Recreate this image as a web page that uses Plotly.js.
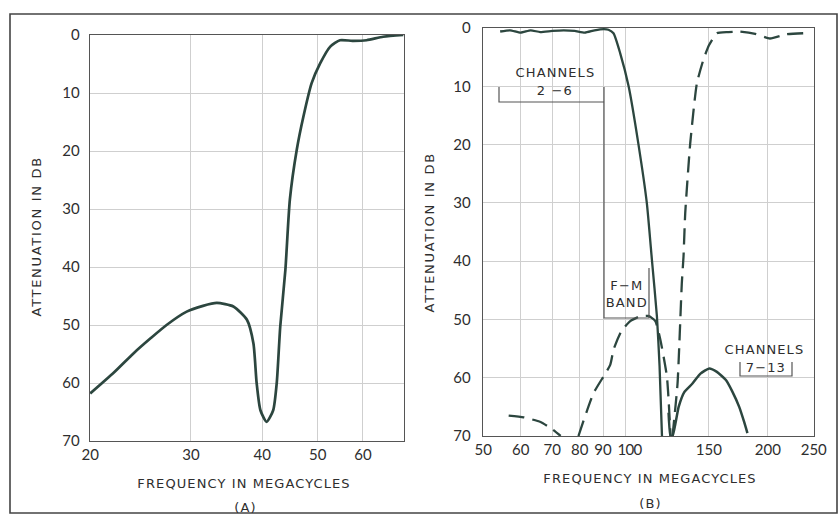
<!DOCTYPE html>
<html>
<head>
<meta charset="utf-8">
<script src="https://cdn.plot.ly/plotly-3.0.1.min.js"></script>
<style>html,body{margin:0;padding:0;background:#fff;}#chart{width:840px;height:517px;}</style>
</head>
<body>
<div id="chart"></div>
<script>
// ---- Panel A: attenuation vs frequency ----
const freqA = [20, 22, 23.8, 25.5, 27.2, 29.5, 31.5, 33.3, 35.6, 37.6, 38.6, 39.1, 39.7, 40.7, 41.8, 42.4, 43.0, 43.9, 44.7, 45.96, 47.2, 48.8, 50.5, 52.6, 54.7, 57.5, 60.9, 65.1, 70.6];
const attA  = [61.8, 58.2, 54.9, 52.3, 50, 47.7, 46.7, 46.2, 46.8, 49.1, 53.2, 60, 64.7, 66.7, 64.7, 60, 50.3, 40.5, 28.4, 19.8, 14.1, 8.3, 4.9, 2.0, 0.9, 1.0, 0.9, 0.3, 0];

// ---- Panel B: solid (channels 2-6 low-pass) ----
const freqB1 = [54.3, 57, 60, 63, 66, 70, 74, 78, 82, 86, 90, 92, 94.3, 97.4, 101.5, 106.5, 110.9, 113.7, 116.5, 118, 119.4];
const attB1  = [0.6, 0.4, 0.8, 0.4, 0.7, 0.5, 0.4, 0.5, 0.8, 0.4, 0.2, 0.3, 0.9, 4.3, 10, 20, 30, 39.8, 49.5, 58, 70];
// solid second lobe
const freqB2 = [123.3, 124.5, 125.7, 129.5, 133, 138.5, 144, 150.3, 156, 163, 168, 173.9, 178, 181];
const attB2  = [66, 70, 70, 65, 62.5, 61, 59.3, 58.4, 59, 60.4, 62.3, 65, 67.5, 69.5];
// ---- Panel B: dashed (channels 7-13 high-pass) ----
const freqB3 = [56.6, 60.9, 66.1, 69.9, 72.9];
const attB3  = [66.5, 66.8, 67.6, 68.8, 70];
const freqB4 = [79.5, 85.5, 92.8, 94.3, 98, 102.3, 107, 111.8, 115.6, 118.4, 122.3, 124.5];
const attB4  = [70, 62.7, 57.8, 55.2, 52, 50.3, 49.5, 49.4, 50.3, 53.4, 59.8, 70];
const freqB5 = [125.7, 128.8, 131.5, 132.6, 133.7, 137, 141.5, 146, 150, 156, 165, 174, 188, 202, 218, 237.7];
const attB5  = [70, 61, 43.8, 39.2, 31.8, 19.8, 9.5, 5.5, 3, 0.9, 0.7, 0.6, 1.0, 1.8, 1.1, 0.9];

const ticksA = [20, 30, 40, 50, 60];
const ticksB = [50, 60, 70, 80, 90, 100, 150, 200, 250];
const ticksY = [0, 10, 20, 30, 40, 50, 60, 70];

const W = 840, H = 517;
const px = x => x / W;
const py = y => 1 - y / H;

const curveColor = '#2c463f';
const textColor = '#2e2e2e';
const font = 'DejaVu Sans, Liberation Sans, sans-serif';
const tickFontFamily = 'Lato, Liberation Sans, sans-serif';

const traces = [
  {x: freqA, y: attA, xaxis: 'x', yaxis: 'y', mode: 'lines',
   line: {color: curveColor, width: 2.7, shape: 'spline', smoothing: 0.6}},
  {x: freqB1, y: attB1, xaxis: 'x2', yaxis: 'y2', mode: 'lines',
   line: {color: curveColor, width: 2.3, shape: 'spline', smoothing: 0.5}},
  {x: freqB2, y: attB2, xaxis: 'x2', yaxis: 'y2', mode: 'lines',
   line: {color: curveColor, width: 2.5, shape: 'spline', smoothing: 0.5}},
  {x: freqB3, y: attB3, xaxis: 'x2', yaxis: 'y2', mode: 'lines',
   line: {color: curveColor, width: 2.3, dash: '16px,8px', shape: 'spline', smoothing: 0.5}},
  {x: freqB4, y: attB4, xaxis: 'x2', yaxis: 'y2', mode: 'lines',
   line: {color: curveColor, width: 2.3, dash: '16px,8px', shape: 'spline', smoothing: 0.5}},
  {x: freqB5, y: attB5, xaxis: 'x2', yaxis: 'y2', mode: 'lines',
   line: {color: curveColor, width: 2.3, dash: '16px,8px', shape: 'spline', smoothing: 0.5}}
];

const axisCommon = {
  showgrid: true, gridcolor: '#cfcfcf', gridwidth: 1,
  showline: true, linecolor: '#555', linewidth: 1.3, mirror: true,
  ticks: '', zeroline: false, tickangle: 0,
  tickfont: {family: tickFontFamily, size: 15, color: textColor}
};

const layout = {
  width: W, height: H,
  margin: {l: 0, r: 0, t: 0, b: 0},
  paper_bgcolor: '#ffffff', plot_bgcolor: '#ffffff',
  showlegend: false,
  xaxis: Object.assign({}, axisCommon, {
    type: 'log', domain: [px(90), px(404)],
    range: [Math.log10(19.98), Math.log10(70.8)],
    tickmode: 'array', tickvals: ticksA, ticktext: ticksA.map(String),
    anchor: 'y', ticklabelstandoff: 0
  }),
  yaxis: Object.assign({}, axisCommon, {
    domain: [py(441), py(35)], range: [70, 0],
    tickmode: 'array', tickvals: ticksY, ticktext: ticksY.map(String),
    anchor: 'x', ticklabelstandoff: 6
  }),
  xaxis2: Object.assign({}, axisCommon, {
    type: 'log', domain: [px(483), px(814)],
    range: [Math.log10(49.95), Math.log10(250.3)],
    tickmode: 'array', tickvals: ticksB, ticktext: ticksB.map(String),
    anchor: 'y2', ticklabelstandoff: 0
  }),
  yaxis2: Object.assign({}, axisCommon, {
    domain: [py(436), py(28)], range: [70, 0],
    tickmode: 'array', tickvals: ticksY, ticktext: ticksY.map(String),
    anchor: 'x2', ticklabelstandoff: 8
  }),
  shapes: [
    {type: 'rect', xref: 'paper', yref: 'paper', x0: px(10), x1: px(837), y0: py(513), y1: py(14),
     line: {color: '#444', width: 1.6}},
    {type: 'path', xref: 'paper', yref: 'paper',
     path: `M ${px(499)} ${py(87)} L ${px(499)} ${py(102)} L ${px(604)} ${py(102)}`,
     line: {color: '#555', width: 1.2}},
    {type: 'path', xref: 'paper', yref: 'paper',
     path: `M ${px(604)} ${py(87)} L ${px(604)} ${py(318)} L ${px(649)} ${py(318)} L ${px(649)} ${py(268)}`,
     line: {color: '#555', width: 1.2}},
    {type: 'path', xref: 'paper', yref: 'paper',
     path: `M ${px(740)} ${py(362)} L ${px(740)} ${py(376)} L ${px(792)} ${py(376)} L ${px(792)} ${py(362)}`,
     line: {color: '#555', width: 1.2}}
  ],
  annotations: []
};

function label(x, y, text, angle) {
  layout.annotations.push({xref: 'paper', yref: 'paper', x: px(x), y: py(y), text: text,
    showarrow: false, xanchor: 'center', yanchor: 'middle', textangle: angle || 0,
    font: {family: font, size: 13, color: textColor}});
}
label(244, 483, 'FREQUENCY IN MEGACYCLES');
label(245, 507, '(A)');
label(36, 237, 'ATTENUATION IN DB', -90);
label(650, 478, 'FREQUENCY IN MEGACYCLES');
label(650, 503, '(B)');
label(429, 232, 'ATTENUATION IN DB', -90);
label(555, 72, 'CHANNELS');
label(555, 90, '2 \u22126');
label(627, 285, 'F\u2212M');
label(627, 302, 'BAND');
label(764, 349, 'CHANNELS');
label(766, 367, '7\u221213');

Plotly.newPlot('chart', traces, layout, {staticPlot: true, displayModeBar: false}).then(() => {
  document.querySelectorAll('#chart .annotation-text').forEach(t => {
    const s = t.textContent;
    t.style.letterSpacing = (s.indexOf('ATTENUATION') === 0) ? '1.7px' : '1.1px';
  });
  // small spacing nudge so the crowded "90" / "100" tick labels don't touch
  document.querySelectorAll('#chart .x2tick text').forEach(t => {
    const s = t.textContent;
    if (s === '100') { t.style.letterSpacing = '-0.6px'; t.setAttribute('dx', '4'); }
    if (s === '90') { t.setAttribute('dx', '-1'); }
  });
});
</script>
</body>
</html>
